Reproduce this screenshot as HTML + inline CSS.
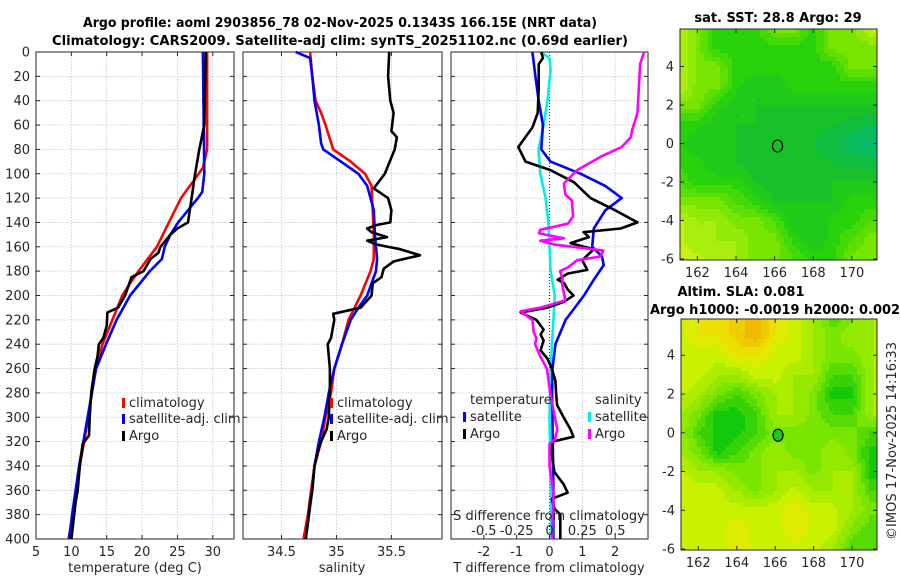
<!DOCTYPE html>
<html><head><meta charset="utf-8">
<style>
html,body{margin:0;padding:0;background:#fff;}
svg{display:block;font-family:"DejaVu Sans","Liberation Sans",sans-serif;}
.tk{font-size:13px;fill:#262626;}
.tt{font-size:13px;font-weight:bold;fill:#000;}
canvas{position:absolute;image-rendering:pixelated;}
</style></head>
<body>
<div style="position:relative;width:900px;height:580px;overflow:hidden">
<canvas id="sstmap" width="197" height="231" style="left:680px;top:29px;width:197px;height:231px"></canvas>
<canvas id="slamap" width="196" height="231" style="left:681px;top:319px;width:196px;height:231px"></canvas>
<svg id="fig" width="900" height="580" style="position:absolute;left:0;top:0"></svg>
</div>
<script>
// ---------- data ----------
const depthTicks = [0,20,40,60,80,100,120,140,160,180,200,220,240,260,280,300,320,340,360,380,400];
const tempTicks = [5,10,15,20,25,30];
const salTicks = [34.5,35,35.5];
const tdiffTicks = [-2,-1,0,1,2];
const sdiffTicks = [-0.5,-0.25,0,0.25,0.5];
const sdiffTickLabels = ["-0.5","-0.25","0","0.25","0.5"];

const tClimDepth = [0,80,95,100,120,140,160,180,190,200,220,240,260,280,300,320,340,360,380,400];
const tClimVal   = [29.2,29.2,28.6,28.0,25.5,23.8,22.1,19.5,18.3,17.2,15.8,14.4,13.4,12.9,12.4,11.8,11.2,10.7,10.2,9.6];
const tSatDepth = [0,100,115,120,140,150,160,170,180,200,220,240,260,280,300,320,340,360,380,400];
const tSatVal   = [28.6,28.8,28.5,27.9,25.1,24.0,23.2,22.8,21.1,18.3,16.4,14.9,13.5,12.9,12.3,11.7,11.1,10.6,10.1,9.7];
const tArgoDepth = [0,60,80,100,120,140,145,150,160,165,170,180,185,200,210,214,225,235,240,250,260,280,300,315,322,340,360,370,380,400];
const tArgoVal   = [29.0,28.8,28.1,27.5,27.0,26.5,25.0,24.0,22.6,22.3,21.2,20.2,18.5,17.6,16.6,15.1,15.0,14.5,13.9,13.7,13.3,12.8,12.6,12.5,11.6,11.2,10.9,10.6,10.4,10.0];

const sClimDepth = [0,20,40,50,60,80,90,100,110,130,150,170,180,200,220,240,260,280,300,320,340,360,380,400];
const sClimVal   = [34.76,34.78,34.81,34.86,34.9,34.97,35.13,35.26,35.32,35.33,35.34,35.34,35.31,35.22,35.11,35.05,34.98,34.95,34.9,34.86,34.8,34.77,34.74,34.70];
const sSatDepth = [0,5,20,40,60,75,80,90,100,110,130,150,170,180,200,210,220,240,260,280,300,320,340,360,380,400];
const sSatVal   = [34.63,34.76,34.78,34.8,34.84,34.86,34.88,35.04,35.2,35.28,35.34,35.35,35.37,35.36,35.28,35.2,35.13,35.05,34.98,34.93,34.89,34.84,34.8,34.78,34.75,34.72];
const sArgoDepth = [0,20,40,50,65,70,80,100,112,120,130,140,142,145,148,152,155,158,162,167,172,178,185,190,200,210,215,220,230,235,240,250,260,280,300,310,320,325,340,360,370,380,400];
const sArgoVal   = [35.48,35.47,35.49,35.52,35.5,35.55,35.53,35.44,35.34,35.47,35.5,35.49,35.37,35.28,35.32,35.46,35.28,35.36,35.58,35.76,35.52,35.43,35.41,35.33,35.32,35.22,34.97,34.98,34.96,34.95,34.92,34.93,34.94,34.94,34.93,34.91,34.86,34.84,34.8,34.78,34.76,34.75,34.72];

const dtSatDepth = [0,20,40,60,80,90,100,110,120,130,145,160,168,175,187,200,220,240,260,280,320,360,400];
const dtSatVal   = [-0.52,-0.43,-0.33,-0.2,-0.25,0.03,0.95,1.7,2.2,1.7,1.35,1.3,1.6,1.65,1.35,1.05,0.49,0.18,0.09,0.08,0.1,0.12,0.12];
const dtArgoDepth = [0,5,10,30,50,62,78,90,97,107,120,130,140,145,148,152,157,162,171,179,182,187,190,195,200,205,210,214,220,228,232,237,245,252,260,270,280,290,300,310,316,320,330,345,355,362,367,375,380,400];
const dtArgoVal   = [-0.25,-0.2,-0.33,-0.33,-0.36,-0.52,-0.95,-0.73,0.03,0.75,1.25,2.0,2.68,2.17,1.04,1.2,0.64,1.35,1.0,1.15,0.55,0.25,0.45,0.55,0.73,0.45,-0.06,-0.88,-0.4,-0.18,-0.27,-0.18,-0.27,-0.06,0.07,0.18,0.2,0.23,0.43,0.64,0.73,0.09,0.07,0.15,0.43,0.55,0.07,0.15,0.33,0.33];
const dsSatDepth = [0,5,15,40,60,80,100,120,140,160,180,200,220,260,300,350,400];
const dsSatVal   = [-0.07,0,0.008,-0.015,-0.045,-0.084,-0.07,-0.03,-0.008,0,0.008,0.04,0.03,0.008,0,0.008,0.015];
const dsArgoDepth = [0,10,30,50,64,70,78,86,97,108,117,122,135,141,146,149,153,155,158,163,168,171,177,180,186,190,204,210,213,220,230,235,240,250,260,280,300,310,318,322,340,355,362,370,400];
const dsArgoVal   = [0.72,0.69,0.68,0.67,0.63,0.62,0.55,0.39,0.21,0.11,0.12,0.17,0.18,0.14,-0.07,-0.08,0.11,-0.07,0.03,0.41,0.39,0.21,0.14,0.08,0.1,0.095,0.12,-0.07,-0.22,-0.13,-0.12,-0.1,-0.11,-0.07,-0.02,0.005,0.04,0.06,0.04,0,0,0.02,0.03,0.03,0.02];

// map grids (rows lat 6..-6, cols lon 161..171)
const sstLevels = [
[4,3,2,2,2,3,3,2,3,3,4],[4,3,2,2,2,2,2,2,3,3,3],[4,3,3,2,2,2,2,2,2,3,3],
[4,3,3,2,1.5,1.5,2,2,2,2,2],[3,3,2,1.5,1.5,1.5,1.5,1.5,1.5,1.5,1.5],
[2,2,1.5,1.5,1.5,1.2,1.2,1.2,1.2,1,0.8],[2,1.5,1.5,1.5,1.2,1.2,1.2,1.2,1,0.6,0.4],
[2,2,1.5,1.5,1.2,1.2,1.2,1.2,1.2,1,1],[2.5,2,2,2,1.5,1.2,1.2,1.2,1.5,1.5,1.5],
[3,3,3,2.5,2,1.5,1.5,1.5,1.5,2,2],[4,3.5,3.5,3,3,2.5,1.5,1.5,2,2,2.5],
[4,3.5,3.5,3.5,3,3,2,1.5,2,2.5,3],[4,4,3.5,3.5,3,3,2.5,2,2,3,3]];
const slaLevels = [
[3,3.5,3.5,4,4.5,3.5,3,2.5,1.5,2,2.5],[3,3.5,3.5,4,4.5,3.5,3,2.5,2,2.5,2.5],
[3,3,3,3.5,3.5,3,3,2.5,2,2,2.5],[3,3,2.5,2.5,3,3,2.5,2.5,1.5,1.5,2.5],
[3,2.5,2,1.5,2,2.5,2.5,2,1,1,2.5],[2.5,2,1,1,1.5,2.5,2.5,2,1.5,1.5,2.5],
[2.5,1.5,1,1,1.5,2,2,2,2,2,1.5],[2.5,2,1,1.5,2,2.5,2,2,2.5,2,1],
[3,2.5,2.5,2,2,2.5,2.5,2,2.5,2.5,1],[3,3,3,2.5,2,2.5,3,2.5,2.5,2.5,1.5],
[3,3,3,3,3,3,3.5,3,3,2.5,2],[3,3,3,3.5,3,3,3.5,3,3,2,1.5],[3,3,3,3.5,3,3,3,3,2.5,1.5,1.5]];
const lonTicks = [162,164,166,168,170];
const latTicks = [4,2,0,-2,-4,-6];
const argoLon = 166.15, argoLat = -0.13;

// ---------- helpers ----------
const NS = "http://www.w3.org/2000/svg";
const svg = document.getElementById('fig');
function mk(tag, attrs, parent){const e=document.createElementNS(NS,tag);for(const k in attrs)e.setAttribute(k,attrs[k]);(parent||svg).appendChild(e);return e;}
function txt(x,y,s,cls,anchor,extra){const e=mk('text',Object.assign({x:x,y:y,class:cls,'text-anchor':anchor||'middle'},extra||{}));e.textContent=s;return e;}

const Y0=52, Y1=539;
const yD = d => Y0 + d*(Y1-Y0)/400;
function lin(a0,a1,p0,p1){return v => p0 + (v-a0)*(p1-p0)/(a1-a0);}
const xT = lin(5,33,36,234);
const xS = lin(34.15,35.96,243,442);
const xDT = lin(-3,3,451,648);
const xDS = v => xDT(v*4);

function panel(x0,x1,name,vgrid,xf){
  const g=mk('g',{});
  
  
  depthTicks.forEach(d=>{ if(d>0&&d<400) mk('line',{x1:x0,x2:x1,y1:yD(d),y2:yD(d),stroke:'#b9c4dc','stroke-width':0.8,'stroke-dasharray':'1.5,1.5'},g);});
  vgrid.forEach(v=>{ mk('line',{x1:xf(v),x2:xf(v),y1:Y0,y2:Y1,stroke:'#b9c4dc','stroke-width':0.8,'stroke-dasharray':'1.5,1.5'},g);});
  depthTicks.forEach(d=>{ mk('line',{x1:x0,x2:x0+4,y1:yD(d),y2:yD(d),stroke:'#262626'},g); mk('line',{x1:x1-4,x2:x1,y1:yD(d),y2:yD(d),stroke:'#262626'},g);});
  mk('rect',{x:x0,y:Y0,width:x1-x0,height:Y1-Y0,fill:'none',stroke:'#262626','stroke-width':1},g);
  return g;
}
function line(depths,vals,xf,color,name,parent){
  const pts=depths.map((d,i)=>xf(vals[i]).toFixed(1)+','+yD(d).toFixed(1)).join(' ');
  const p=mk('polyline',{points:pts,fill:'none',stroke:color,'stroke-width':2.6,'stroke-linejoin':'round'},parent);
  
  
  return p;
}
function legendEntry(x,y,color,label,name){
  const g=mk('g',{});
  
  
  mk('rect',{x:x,y:y-9,width:3,height:10,fill:color},g);
  const t=mk('text',{x:x+7,y:y,class:'tk','text-anchor':'start'},g);t.textContent=label;
}

// ---------- titles ----------
let t1=txt(340,27,'Argo profile: aoml 2903856_78 02-Nov-2025 0.1343S 166.15E (NRT data)','tt','middle',{textLength:514,lengthAdjust:'spacingAndGlyphs'});

let t2=txt(340,45,'Climatology: CARS2009. Satellite-adj clim: synTS_20251102.nc (0.69d earlier)','tt','middle',{textLength:576,lengthAdjust:'spacingAndGlyphs'});


// ---------- panel 1: temperature ----------
const p1=panel(36,234,'temperature-panel',[10,15,20,25,30],xT);
depthTicks.forEach(d=>{txt(30,yD(d)+4.5,String(d),'tk','end');});
tempTicks.forEach(v=>{txt(xT(v),556,String(v),'tk');mk('line',{x1:xT(v),x2:xT(v),y1:Y1,y2:Y1-4,stroke:'#262626'},p1);mk('line',{x1:xT(v),x2:xT(v),y1:Y0,y2:Y0+4,stroke:'#262626'},p1);});
txt(135,572,'temperature (deg C)','tk');
line(tClimDepth,tClimVal,xT,'#ff0000','temperature-climatology-line',p1);
line(tSatDepth,tSatVal,xT,'#0000ff','temperature-satellite-line',p1);
line(tArgoDepth,tArgoVal,xT,'#000000','temperature-argo-line',p1);
legendEntry(122,407,'#ff0000','climatology','legend-climatology');
legendEntry(122,423,'#0000ff','satellite-adj. clim','legend-satellite');
legendEntry(122,440,'#000000','Argo','legend-argo');

// ---------- panel 2: salinity ----------
const p2=panel(243,442,'salinity-panel',[34.5,35,35.5],xS);
salTicks.forEach(v=>{txt(xS(v),556,String(v),'tk');mk('line',{x1:xS(v),x2:xS(v),y1:Y1,y2:Y1-4,stroke:'#262626'},p2);mk('line',{x1:xS(v),x2:xS(v),y1:Y0,y2:Y0+4,stroke:'#262626'},p2);});
txt(342,572,'salinity','tk');
line(sClimDepth,sClimVal,xS,'#ff0000','salinity-climatology-line',p2);
line(sSatDepth,sSatVal,xS,'#0000ff','salinity-satellite-line',p2);
line(sArgoDepth,sArgoVal,xS,'#000000','salinity-argo-line',p2);
legendEntry(330,407,'#ff0000','climatology','legend-climatology-salinity');
legendEntry(330,423,'#0000ff','satellite-adj. clim','legend-satellite-salinity');
legendEntry(330,440,'#000000','Argo','legend-argo-salinity');

// ---------- panel 3: differences ----------
const p3=panel(451,648,'difference-panel',[-2,-1,1,2],xDT);
mk('line',{x1:xDT(0),x2:xDT(0),y1:Y0,y2:Y1,stroke:'#333','stroke-width':1,'stroke-dasharray':'1,2'},p3);
tdiffTicks.forEach(v=>{txt(xDT(v),556,String(v),'tk');mk('line',{x1:xDT(v),x2:xDT(v),y1:Y1,y2:Y1-4,stroke:'#262626'},p3);});
txt(549,572,'T difference from climatology','tk');
line(dsSatDepth,dsSatVal,xDS,'#00eeee','salinity-diff-satellite-line',p3);
line(dtSatDepth,dtSatVal,xDT,'#0000ff','temp-diff-satellite-line',p3);
line(dtArgoDepth,dtArgoVal,xDT,'#000000','temp-diff-argo-line',p3);
line(dsArgoDepth,dsArgoVal,xDS,'#ff00ff','salinity-diff-argo-line',p3);
txt(549,520,'S difference from climatology','tk');
sdiffTicks.forEach((v,i)=>{txt(xDS(v),535,sdiffTickLabels[i],'tk');});
txt(470,404,'temperature','tk','start');
legendEntry(463,421,'#0000ff','satellite','legend-temp-satellite');
legendEntry(463,438,'#000000','Argo','legend-temp-argo');
txt(595,404,'salinity','tk','start');
legendEntry(588,421,'#00eeee','satellite','legend-sal-satellite');
legendEntry(588,438,'#ff00ff','Argo','legend-sal-argo');

// ---------- maps ----------
function drawMap(canvasId,levels,stops,x0,y0,w,h,latTop,latBot,name){
  const lonL=161.1, lonR=171.3;
  const c=document.getElementById(canvasId).getContext('2d');
  const cell=4;
  function val(lon,lat){
    let fc=Math.max(0,Math.min(10,lon-161)), fr=Math.max(0,Math.min(12,6-lat));
    let c0=Math.floor(fc), r0=Math.floor(fr); let c1=Math.min(10,c0+1), r1=Math.min(12,r0+1);
    let ax=fc-c0, ay=fr-r0;
    return levels[r0][c0]*(1-ax)*(1-ay)+levels[r0][c1]*ax*(1-ay)+levels[r1][c0]*(1-ax)*ay+levels[r1][c1]*ax*ay;
  }
  function col(v){
    for(let i=0;i<stops.length-1;i++){ if(v<=stops[i+1][0]){const a=Math.max(0,(v-stops[i][0])/(stops[i+1][0]-stops[i][0]));return stops[i][1].map((q,k)=>Math.round(q+(stops[i+1][1][k]-q)*a));}}
    return stops[stops.length-1][1];
  }
  for(let py=0;py<h;py+=cell){for(let px=0;px<w;px+=cell){
    const lon=lonL+(px+cell/2)*(lonR-lonL)/w, lat=latTop-(py+cell/2)*(latTop-latBot)/h;
    const q=Math.round(val(lon,lat)*3)/3;
    const cc=col(q); c.fillStyle='rgb('+cc.join(',')+')'; c.fillRect(px,py,cell,cell);
  }}
  const lx=lon=>x0+(lon-lonL)*w/(lonR-lonL), ly=lat=>y0+(latTop-lat)*h/(latTop-latBot);
  const g=mk('g',{});
  
  
  mk('rect',{x:x0,y:y0,width:w,height:h,fill:'none',stroke:'#262626'},g);
  lonTicks.forEach(v=>{mk('line',{x1:lx(v),x2:lx(v),y1:y0+h,y2:y0+h-4,stroke:'#262626'},g);mk('line',{x1:lx(v),x2:lx(v),y1:y0,y2:y0+4,stroke:'#262626'},g);txt(lx(v),y0+h+17,String(v),'tk');});
  latTicks.forEach(v=>{mk('line',{x1:x0,x2:x0+4,y1:ly(v),y2:ly(v),stroke:'#262626'},g);mk('line',{x1:x0+w-4,x2:x0+w,y1:ly(v),y2:ly(v),stroke:'#262626'},g);txt(x0-6,ly(v)+4.5,String(v),'tk','end');});
  const m=mk('ellipse',{cx:lx(argoLon),cy:ly(argoLat),rx:5,ry:6,fill:'none',stroke:'#000','stroke-width':1.2},g);
  
  
  return {lx,ly};
}
const sstStops=[[0.3,[0,185,125]],[1.2,[20,190,45]],[2,[40,210,10]],[3,[120,230,0]],[4,[195,242,20]]];
const slaStops=[[1,[20,200,10]],[2,[120,230,0]],[3,[200,242,0]],[3.5,[232,232,0]],[4.5,[242,175,0]]];
drawMap('sstmap',sstLevels,sstStops,680,29,197,231,5.95,-6.05,'sst-map-axes');
drawMap('slamap',slaLevels,slaStops,681,319,196,231,5.87,-6.05,'sla-map-axes');
svg.querySelectorAll('ellipse')[1].setAttribute('fill','#22c822');
txt(778,22,'sat. SST: 28.8 Argo: 29','tt');
txt(741,296,'Altim. SLA: 0.081','tt');
txt(775,314,'Argo h1000: -0.0019 h2000: 0.002','tt','middle',{textLength:250,lengthAdjust:'spacingAndGlyphs'});
let cr=txt(0,0,'©IMOS 17-Nov-2025 14:16:33','tk','middle',{transform:'translate(896,441) rotate(-90)',textLength:198,lengthAdjust:'spacingAndGlyphs'});

</script>
</body></html>
